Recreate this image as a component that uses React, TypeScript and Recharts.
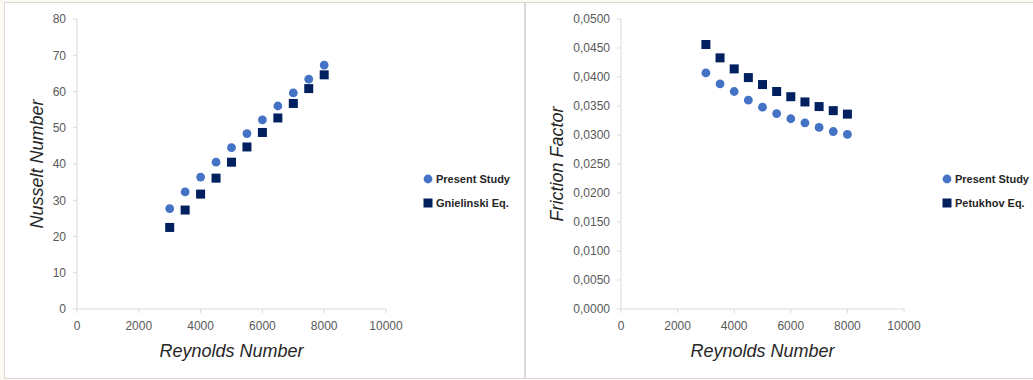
import { ScatterChart, Scatter, XAxis, YAxis, Legend } from "recharts";

// Reynolds numbers shared by both plots
const reynolds = [3000, 3500, 4000, 4500, 5000, 5500, 6000, 6500, 7000, 7500, 8000];

const nusseltPresent = [27.7, 32.3, 36.4, 40.5, 44.5, 48.4, 52.2, 56.0, 59.6, 63.4, 67.3];
const nusseltGnielinski = [22.5, 27.3, 31.7, 36.1, 40.5, 44.7, 48.7, 52.7, 56.7, 60.8, 64.6];

const frictionPresent = [0.0407, 0.0388, 0.0375, 0.036, 0.0348, 0.0337, 0.0328, 0.0321, 0.0313, 0.0306, 0.0301];
const frictionPetukhov = [0.0456, 0.0433, 0.0414, 0.0399, 0.0387, 0.0375, 0.0366, 0.0357, 0.0349, 0.0342, 0.0336];

const xTicks = [0, 2000, 4000, 6000, 8000, 10000];
const nuTicks = [0, 10, 20, 30, 40, 50, 60, 70, 80];
const fTicks = [0, 0.005, 0.01, 0.015, 0.02, 0.025, 0.03, 0.035, 0.04, 0.045, 0.05];

const BLUE = "#4472C4";
const NAVY = "#002060";
const AXIS = "#d9d9d9";
const FONT = "'Liberation Sans', Arial, sans-serif";

const toPoints = (ys: number[]) => reynolds.map((x, i) => ({ x, y: ys[i] }));

const Dot = (props: any) => <circle cx={props.cx} cy={props.cy} r={4.4} fill={BLUE} />;
const Box = (props: any) => (
  <rect x={props.cx - 4.5} y={props.cy - 4.5} width={9} height={9} fill={NAVY} />
);

const tickStyle = { fill: "#595959", fontSize: 12, fontFamily: FONT };

const yTitle = (text: string, cx: number) => (props: any) => {
  const { viewBox } = props;
  const cy = viewBox.y + viewBox.height / 2;
  return (
    <text
      x={cx}
      y={cy}
      transform={`rotate(-90, ${cx}, ${cy})`}
      textAnchor="middle"
      dominantBaseline="central"
      fontSize={18}
      fontStyle="italic"
      fontFamily={FONT}
      fill="#262626"
    >
      {text}
    </text>
  );
};

const xTitle = (props: any) => {
  const { viewBox } = props;
  return (
    <text
      x={viewBox.x + viewBox.width / 2}
      y={viewBox.y + 42}
      textAnchor="middle"
      dominantBaseline="central"
      fontSize={18}
      fontStyle="italic"
      fontFamily={FONT}
      fill="#262626"
    >
      Reynolds Number
    </text>
  );
};

const LegendBox = ({ second }: { second: string }) => (
  <div style={{ fontFamily: FONT, fontSize: 11, fontWeight: "bold", color: "#262626" }}>
    {[
      { name: "Present Study", square: false },
      { name: second, square: true },
    ].map((item) => (
      <div key={item.name} style={{ height: 24, display: "flex", alignItems: "center", whiteSpace: "nowrap" }}>
        <svg width={10} height={10} style={{ marginRight: 3 }}>
          {item.square ? <rect x={0.5} y={0.5} width={9} height={9} fill={NAVY} /> : <circle cx={5} cy={5} r={4.4} fill={BLUE} />}
        </svg>
        {item.name}
      </div>
    ))}
  </div>
);

const panel = (left: number, width: number, borderRight: boolean): React.CSSProperties => ({
  position: "absolute",
  left,
  top: 2,
  width,
  height: 377,
  boxSizing: "border-box",
  border: `1px solid ${AXIS}`,
  borderRight: borderRight ? `1px solid ${AXIS}` : "none",
  background: "#fff",
});

export default function App() {
  return (
    <div style={{ position: "absolute", left: 0, top: 0, width: 1033, height: 380, background: "#fcf8f2", overflow: "hidden" }}>
      <div style={panel(4, 521, true)}>
        <ScatterChart width={519} height={375} margin={{ top: 16, right: 138, left: 0, bottom: 0 }}>
          <XAxis
            type="number"
            dataKey="x"
            domain={[0, 10000]}
            ticks={xTicks}
            height={69}
            stroke={AXIS}
            tickSize={4}
            tickMargin={8}
            tick={tickStyle}
            label={xTitle}
          />
          <YAxis
            type="number"
            dataKey="y"
            domain={[0, 80]}
            ticks={nuTicks}
            width={72}
            stroke={AXIS}
            tickSize={4}
            tickMargin={7}
            tick={tickStyle}
            label={yTitle("Nusselt Number", 31.7)}
          />
          <Legend
            layout="vertical"
            align="center"
            verticalAlign="middle"
            content={() => <LegendBox second="Gnielinski Eq." />}
            wrapperStyle={{ left: 418, top: 164, width: "auto" }}
          />
          <Scatter name="Present Study" data={toPoints(nusseltPresent)} shape={Dot} isAnimationActive={false} />
          <Scatter name="Gnielinski Eq." data={toPoints(nusseltGnielinski)} shape={Box} isAnimationActive={false} />
        </ScatterChart>
      </div>
      <div style={panel(525, 508, false)}>
        <ScatterChart width={507} height={375} margin={{ top: 16, right: 129, left: 0, bottom: 0 }}>
          <XAxis
            type="number"
            dataKey="x"
            domain={[0, 10000]}
            ticks={xTicks}
            height={69}
            stroke={AXIS}
            tickSize={4}
            tickMargin={8}
            tick={tickStyle}
            label={xTitle}
          />
          <YAxis
            type="number"
            dataKey="y"
            domain={[0, 0.05]}
            ticks={fTicks}
            width={95}
            stroke={AXIS}
            tickSize={4}
            tickMargin={7}
            tick={tickStyle}
            tickFormatter={(v: number) => v.toFixed(4).replace(".", ",")}
            label={yTitle("Friction Factor", 30.7)}
          />
          <Legend
            layout="vertical"
            align="center"
            verticalAlign="middle"
            content={() => <LegendBox second="Petukhov Eq." />}
            wrapperStyle={{ left: 416, top: 164, width: "auto" }}
          />
          <Scatter name="Present Study" data={toPoints(frictionPresent)} shape={Dot} isAnimationActive={false} />
          <Scatter name="Petukhov Eq." data={toPoints(frictionPetukhov)} shape={Box} isAnimationActive={false} />
        </ScatterChart>
      </div>
    </div>
  );
}
